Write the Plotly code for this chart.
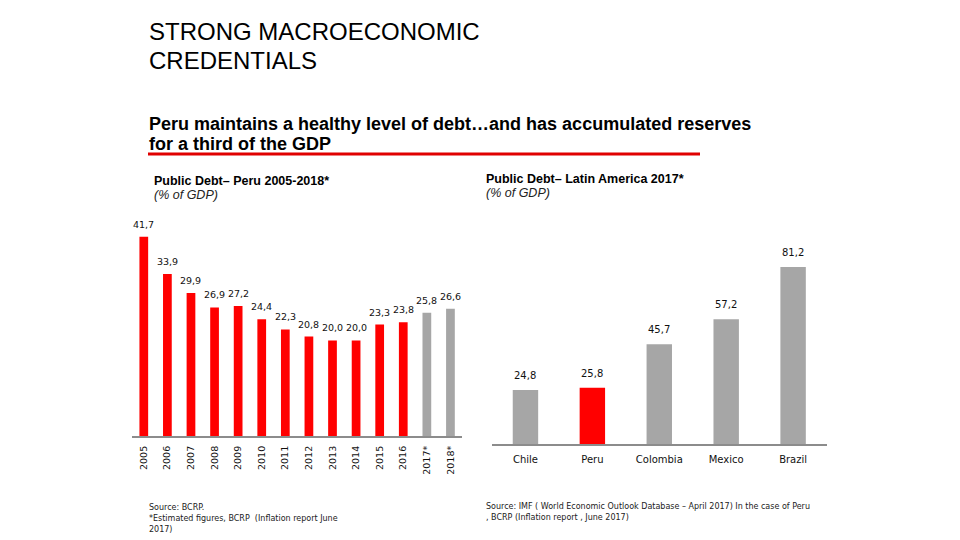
import plotly.graph_objects as go

years = ["2005", "2006", "2007", "2008", "2009", "2010", "2011", "2012", "2013",
         "2014", "2015", "2016", "2017*", "2018*"]
peru_debt = [41.7, 33.9, 29.9, 26.9, 27.2, 24.4, 22.3, 20.8, 20.0, 20.0, 23.3, 23.8, 25.8, 26.6]
peru_colors = ["#FF0000"] * 12 + ["#A6A6A6"] * 2

countries = ["Chile", "Peru", "Colombia", "Mexico", "Brazil"]
latam_debt = [24.8, 25.8, 45.7, 57.2, 81.2]
latam_colors = ["#A6A6A6", "#FF0000", "#A6A6A6", "#A6A6A6", "#A6A6A6"]

def fmt(v):
    return f"{v:.1f}".replace(".", ",")

fig = go.Figure()
fig.add_trace(go.Bar(
    x=years, y=peru_debt, marker=dict(color=peru_colors, line=dict(width=0)),
    width=0.37, xaxis="x", yaxis="y", showlegend=False, hoverinfo="x+y"))
fig.add_trace(go.Bar(
    x=countries, y=latam_debt, marker=dict(color=latam_colors, line=dict(width=0)),
    width=0.38, xaxis="x2", yaxis="y2", showlegend=False, hoverinfo="x+y"))

# value labels placed through the axes' own scales (category index positions)
for i, v in enumerate(peru_debt):
    fig.add_annotation(x=i, y=v, xref="x", yref="y", text=fmt(v), showarrow=False,
                       yanchor="bottom", yshift=5,
                       font=dict(family="DejaVu Sans", size=9.5, color="#111111"))
for i, v in enumerate(latam_debt):
    fig.add_annotation(x=i, y=v, xref="x2", yref="y2", text=fmt(v), showarrow=False,
                       yanchor="bottom", yshift=7,
                       font=dict(family="DejaVu Sans", size=10, color="#111111"))

fig.update_layout(
    width=960, height=540, margin=dict(l=0, r=0, t=0, b=0),
    paper_bgcolor="white", plot_bgcolor="white",
    font=dict(family="Liberation Sans", color="#000000"),
    xaxis=dict(type="category", domain=[0.1375, 0.4815], range=[-0.5, 13.5], showgrid=False,
               showline=True, linecolor="#8C8C8C", linewidth=2, ticks="",
               tickangle=-90, ticklabelstandoff=4,
               tickfont=dict(family="DejaVu Sans", size=9.5, color="#111111"),
               anchor="y", fixedrange=True),
    yaxis=dict(domain=[0.1926, 0.6352], range=[0, 50], visible=False, anchor="x",
               fixedrange=True),
    xaxis2=dict(type="category", domain=[0.5125, 0.861], range=[-0.5, 4.5], showgrid=False,
                showline=True, linecolor="#8C8C8C", linewidth=2, ticks="",
                ticklabelstandoff=5,
                tickfont=dict(family="DejaVu Sans", size=10, color="#111111"),
                anchor="y2", fixedrange=True),
    yaxis2=dict(domain=[0.1778, 0.5815], range=[0, 100], visible=False, anchor="x2",
                fixedrange=True),
    bargap=0.6,
)

def ann(text, x, y, size, bold=False, italic=False, color="#000000", family="Liberation Sans"):
    if bold:
        text = f"<b>{text}</b>"
    if italic:
        text = f"<i>{text}</i>"
    fig.add_annotation(text=text, x=x / 960, y=1 - y / 540, xref="paper", yref="paper",
                       xanchor="left", yanchor="middle", showarrow=False, align="left",
                       font=dict(family=family, size=size, color=color))

ann("STRONG MACROECONOMIC", 147, 32, 24)
ann("CREDENTIALS", 147, 60, 24)
ann("Peru maintains a healthy level of debt…and has accumulated reserves", 147, 124, 18, bold=True)
ann("for a third of the GDP", 147, 144, 18, bold=True)
fig.add_shape(type="line", x0=148 / 960, x1=700 / 960, y0=1 - 154 / 540, y1=1 - 154 / 540,
              xref="paper", yref="paper", line=dict(color="#E00000", width=3))

ann("Public Debt– Peru 2005-2018*", 152, 181, 12.5, bold=True)
ann("(% of GDP)", 152, 195, 12.5, italic=True, color="#222222")
ann("Public Debt– Latin America 2017*", 484, 179, 12.5, bold=True)
ann("(% of GDP)", 484, 193, 12.5, italic=True, color="#222222")

SRC = dict(size=8, color="#222222", family="DejaVu Sans")
ann("Source: BCRP.", 147, 507, **SRC)
ann("*Estimated figures, BCRP  (Inflation report June", 147, 518, **SRC)
ann("2017)", 147, 529, **SRC)
ann("Source: IMF ( World Economic Outlook Database – April 2017) In the case of Peru", 484, 506, **SRC)
ann(", BCRP (Inflation report , June 2017)", 484, 517, **SRC)

fig.write_html("out.html", config={"displayModeBar": False},
               post_script="document.body.style.margin='0px';")
